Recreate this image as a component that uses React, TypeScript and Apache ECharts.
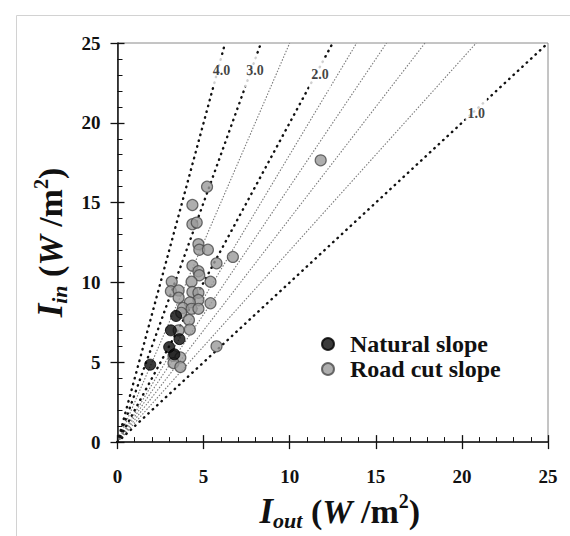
import React, { useEffect, useRef } from "react";
import * as echarts from "echarts";

// ---- data ----
const naturalX = [1.9, 3.0, 3.3, 3.6, 3.1, 3.4];
const naturalY = [4.85, 5.95, 5.5, 6.45, 7.0, 7.9];

const roadX = [11.8, 5.2, 4.35, 4.35, 4.6, 4.7, 4.75, 5.25, 6.7, 5.75, 4.35, 4.7, 4.75, 3.15, 4.3, 5.4, 3.1, 3.55, 3.55, 4.35, 4.7, 4.7, 5.4, 4.2, 3.8, 4.3, 4.7, 3.7, 4.15, 3.55, 4.2, 3.25, 3.65, 3.25, 3.65, 5.75];
const roadY = [17.65, 16.0, 14.85, 13.65, 13.75, 12.4, 12.05, 12.05, 11.6, 11.2, 11.05, 10.7, 10.45, 10.05, 10.05, 10.05, 9.45, 9.5, 9.05, 9.4, 9.35, 8.9, 8.7, 8.75, 8.4, 8.35, 8.35, 8.1, 7.65, 7.0, 7.05, 5.4, 5.3, 4.95, 4.7, 6.0];

const majorRatios = [1.0, 2.0, 3.0, 4.0];
const majorLabelY = [20.6, 23.05, 23.25, 23.25];
const minorRatios = [1.2, 1.4, 1.6, 1.8, 2.5];

const axisMax = 25;
const axisInterval = 5;

const SERIF = "'Liberation Serif', 'Times New Roman', serif";

export default function App() {
  const ref = useRef<HTMLDivElement>(null);

  useEffect(() => {
    if (!ref.current) return;
    const chart = echarts.init(ref.current, null, { renderer: "svg" });

    const ratioLine = (k: number, major: boolean) => ({
      type: "line",
      data: [
        [0, 0],
        [axisMax / Math.max(k, 1), Math.min(axisMax, axisMax * k)],
      ],
      symbol: "none",
      silent: true,
      z: major ? 2 : 1,
      lineStyle: major
        ? { color: "#111", width: 2.4, type: [0.5, 5.5], cap: "round" }
        : { color: "#7a7a7a", width: 1.1, type: [1.5, 1.6] },
    });

    const labelData = majorRatios.map((k, i) => [
      majorLabelY[i] / k,
      majorLabelY[i],
      k.toFixed(1),
    ]);

    const tickLabel = {
      fontFamily: SERIF,
      fontWeight: "bold",
      fontSize: 19,
      color: "#111",
    };

    const LH = 40;
    const richTitle = {
      i: { fontFamily: SERIF, fontWeight: "bold", fontStyle: "italic", fontSize: 35, color: "#111", lineHeight: LH },
      sub: { fontFamily: SERIF, fontWeight: "bold", fontStyle: "italic", fontSize: 22, color: "#111", verticalAlign: "bottom", lineHeight: LH },
      n: { fontFamily: SERIF, fontWeight: "bold", fontSize: 34, color: "#111", lineHeight: LH },
      w: { fontFamily: SERIF, fontWeight: "bold", fontStyle: "italic", fontSize: 34, color: "#111", lineHeight: LH },
      sup: { fontFamily: SERIF, fontWeight: "bold", fontSize: 20, color: "#111", verticalAlign: "top", lineHeight: LH },
    };

    const mainAxis = (name: string) => ({
      type: "value",
      min: 0,
      max: axisMax,
      interval: axisInterval,
      axisLine: { show: true, lineStyle: { color: "#111", width: 1.5 } },
      axisTick: { show: true, inside: false, length: 7, lineStyle: { color: "#111", width: 1.3 } },
      minorTick: { show: false },
      splitLine: { show: false },
      name,
      nameLocation: "middle",
    });

    const innerAxis = (position: string) => ({
      type: "value",
      position,
      min: 0,
      max: axisMax,
      interval: axisInterval,
      axisLine: { show: false },
      axisTick: { show: true, inside: true, length: 7, lineStyle: { color: "#111", width: 1.3 } },
      minorTick: { show: true, splitNumber: 5, length: 5, lineStyle: { color: "#111", width: 1 } },
      axisLabel: { show: false },
      splitLine: { show: false },
    });

    chart.setOption({
      animation: false,
      backgroundColor: "#fff",
      grid: {
        left: 117.5,
        right: 22,
        top: 43,
        bottom: 89.5,
        show: true,
        borderColor: "#8a8a8a",
        borderWidth: 1,
        backgroundColor: "transparent",
      },
      graphic: [
        {
          type: "rect",
          left: 14,
          top: 13,
          shape: { width: 620, height: 620 },
          style: { fill: "none", stroke: "#d2d2d2", lineWidth: 1 },
          silent: true,
          z: -10,
        },
      ],
      legend: {
        data: ["Natural slope", "Road cut slope"],
        orient: "vertical",
        left: 316,
        top: 327,
        itemWidth: 34,
        itemHeight: 12,
        itemGap: 1,
        icon: "circle",
        selectedMode: false,
        textStyle: { fontFamily: SERIF, fontWeight: "bold", fontSize: 24, color: "#111" },
      },
      xAxis: [
        {
          ...mainAxis("{i|I}{sub|out}{n| (}{w|W}{n| /m}{sup|2}{n|)}"),
          position: "bottom",
          nameGap: 45,
          nameTextStyle: { rich: richTitle, padding: [0, 0, 0, 14] },
          axisLabel: { ...tickLabel, margin: 25 },
        },
        innerAxis("bottom"),
      ],
      yAxis: [
        {
          ...mainAxis("{i|I}{sub|in}{n| (}{w|W}{n| /m}{sup|2}{n|)}"),
          position: "left",
          nameRotate: 90,
          nameGap: 38,
          nameTextStyle: { rich: richTitle },
          axisLabel: { ...tickLabel, margin: 17 },
        },
        innerAxis("left"),
      ],
      series: [
        ...minorRatios.map((k) => ratioLine(k, false)),
        ...majorRatios.map((k) => ratioLine(k, true)),
        {
          type: "scatter",
          name: "ratio labels",
          data: labelData,
          symbolSize: 0,
          silent: true,
          z: 3,
          label: {
            show: true,
            position: "inside",
            offset: [4, 0],
            formatter: (p: any) => p.value[2],
            fontFamily: SERIF,
            fontWeight: "bold",
            fontSize: 14,
            color: "#111",
            backgroundColor: "#fff",
            padding: [9, 2, 9, 2],
          },
        },
        {
          type: "scatter",
          name: "Road cut slope",
          data: roadX.map((x, i) => [x, roadY[i]]),
          symbol: "circle",
          symbolSize: 11,
          z: 5,
          itemStyle: { color: "#9a9a9a", borderColor: "#4a4a4a", borderWidth: 1.2 },
        },
        {
          type: "scatter",
          name: "Natural slope",
          data: naturalX.map((x, i) => [x, naturalY[i]]),
          symbol: "circle",
          symbolSize: 11,
          z: 6,
          itemStyle: { color: "#0a0a0a", borderColor: "#000", borderWidth: 1 },
        },
      ],
    });

    return () => chart.dispose();
  }, []);

  return (
    <div
      ref={ref}
      style={{ position: "absolute", left: 0, top: 0, width: 570, height: 536, background: "#fff" }}
    />
  );
}
